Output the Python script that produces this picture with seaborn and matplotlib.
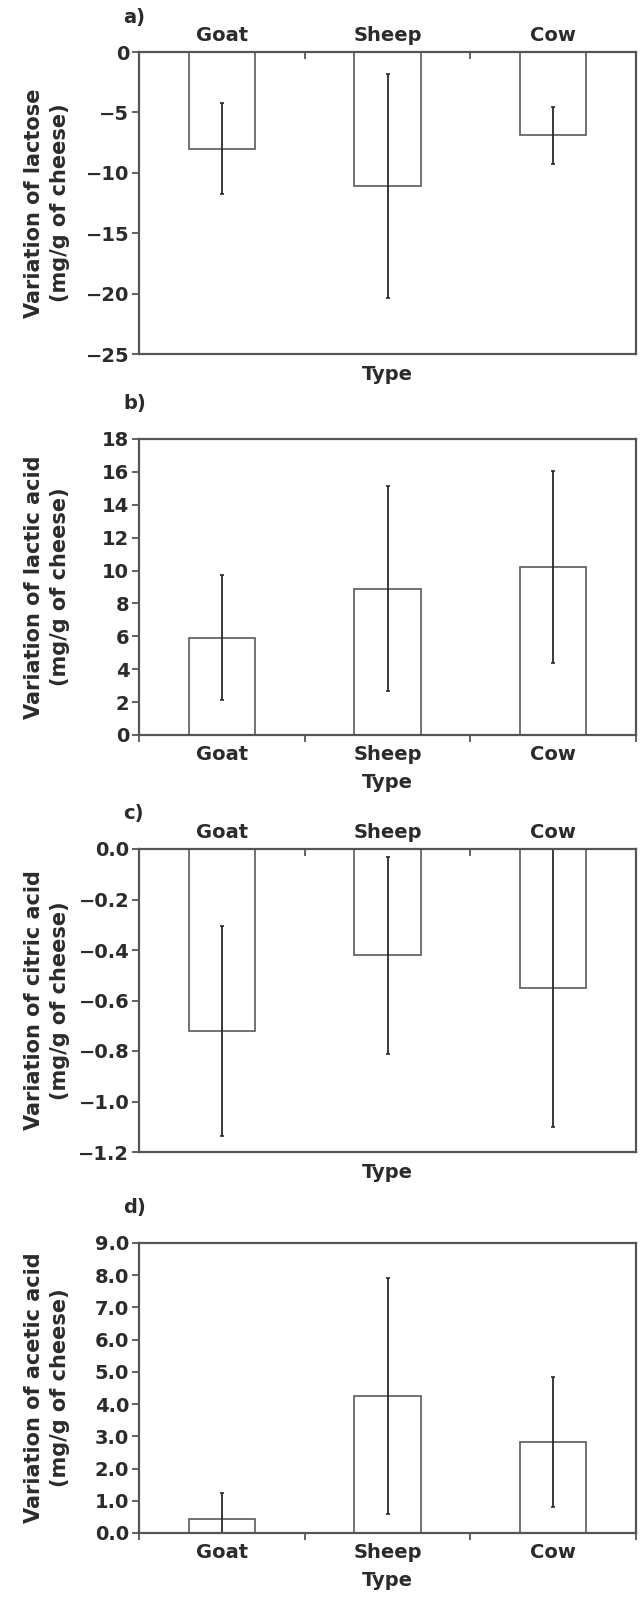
import matplotlib
matplotlib.use("Agg")
import matplotlib.pyplot as plt
import seaborn as sns
import pandas as pd
import numpy as np
from matplotlib.ticker import FuncFormatter

sns.set_theme(style="white")
plt.rcParams['font.family'] = ['DejaVu Sans']
plt.rcParams['font.weight'] = 'bold'

categories = ["Goat", "Sheep", "Cow"]

lactose_mean = [-8.0, -11.1, -6.9]
lactose_err = [3.75, 9.25, 2.35]

lactic_mean = [5.9, 8.9, 10.2]
lactic_err = [3.8, 6.25, 5.85]

citric_mean = [-0.72, -0.42, -0.55]
citric_err = [0.415, 0.39, 0.55]

acetic_mean = [0.42, 4.25, 2.82]
acetic_err = [0.83, 3.67, 2.02]

W, H = 643, 1600


def rect(left, right, top, bottom):
    return [left / W, 1 - bottom / H, (right - left) / W, (bottom - top) / H]


panels = [
    dict(tag="a)", mean=lactose_mean, err=lactose_err, ylabel="Variation of lactose\n(mg/g of cheese)",
         ylim=(-25, 0), yticks=[0, -5, -10, -15, -20, -25], dec=0, top=True,
         rect=rect(139, 636, 52, 354), tagy=17),
    dict(tag="b)", mean=lactic_mean, err=lactic_err, ylabel="Variation of lactic acid\n(mg/g of cheese)",
         ylim=(0, 18), yticks=list(range(0, 19, 2)), dec=0, top=False,
         rect=rect(139, 636, 439, 735), tagy=403),
    dict(tag="c)", mean=citric_mean, err=citric_err, ylabel="Variation of citric acid\n(mg/g of cheese)",
         ylim=(-1.2, 0), yticks=[0.0, -0.2, -0.4, -0.6, -0.8, -1.0, -1.2], dec=1, top=True,
         rect=rect(139, 636, 849, 1152), tagy=813),
    dict(tag="d)", mean=acetic_mean, err=acetic_err, ylabel="Variation of acetic acid\n(mg/g of cheese)",
         ylim=(0, 9), yticks=[float(v) for v in range(0, 10)], dec=1, top=False,
         rect=rect(139, 636, 1243, 1533), tagy=1208),
]

fig = plt.figure(figsize=(W / 100, H / 100), dpi=100)
text_c = "#2b2b2b"
edge_c = "#555555"
fs = 14


def make_fmt(dec):
    def f(v, pos):
        s = f"{v:.{dec}f}"
        if s.startswith("-"):
            if float(s) == 0:
                s = s[1:]
            else:
                s = "\u2212" + s[1:]
        return s
    return FuncFormatter(f)


for p in panels:
    ax = fig.add_axes(p["rect"])
    df = pd.DataFrame({"Type": categories, "value": p["mean"]})
    sns.barplot(data=df, x="Type", y="value", ax=ax, color="white", edgecolor="#5a5a5a",
                linewidth=1.2, width=0.4, errorbar=None, saturation=1)
    ax.errorbar(np.arange(len(categories)), p["mean"], yerr=p["err"], fmt="none",
                ecolor="#2a2a2a", elinewidth=1.3, capsize=1.5, capthick=1.2)
    ax.set_xlim(-0.5, 2.5)
    ax.set_ylim(*p["ylim"])
    ax.set_yticks(p["yticks"])
    ax.yaxis.set_major_formatter(make_fmt(p["dec"]))
    ax.set_ylabel(p["ylabel"], fontsize=15, fontweight="bold", color=text_c, linespacing=1.4)
    ax.yaxis.set_label_coords(-0.139, 0.5)
    ax.set_xlabel("Type", fontsize=fs, fontweight="bold", color=text_c)
    for s in ax.spines.values():
        s.set_color(edge_c)
        s.set_linewidth(1.6)
        s.set_visible(True)
    ax.tick_params(axis="y", direction="out", length=5, width=1.3, color=edge_c,
                   labelsize=fs, labelcolor=text_c, left=True, pad=2)
    if p["top"]:
        ax.xaxis.tick_top()
        ax.xaxis.set_label_position("bottom")
        ax.set_xticks([0.5, 1.5], minor=True)
        ax.tick_params(axis="x", which="major", length=0, labelsize=fs, labelcolor=text_c, pad=5)
        ax.tick_params(axis="x", which="minor", direction="in", length=5, width=1.3, color=edge_c, top=True)
        ax.xaxis.labelpad = 8
    else:
        ax.set_xticks([-0.5, 0.5, 1.5, 2.5], minor=True)
        ax.tick_params(axis="x", which="major", length=0, labelsize=fs, labelcolor=text_c, pad=7)
        ax.tick_params(axis="x", which="minor", direction="out", length=5, width=1.3, color=edge_c, bottom=True)
        ax.xaxis.labelpad = 7
    for lab in ax.get_xticklabels() + ax.get_yticklabels():
        lab.set_fontweight("bold")
    fig.text(123 / W, 1 - p["tagy"] / H, p["tag"], fontsize=fs, fontweight="bold",
             color=text_c, ha="left", va="center")

fig.savefig("out.png", dpi=100)
